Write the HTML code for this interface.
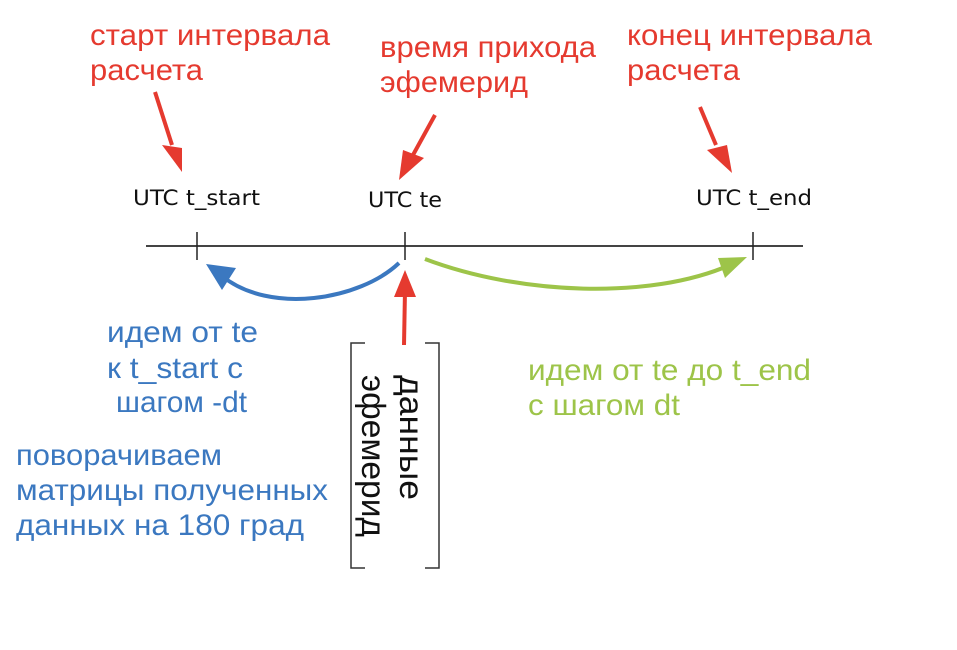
<!DOCTYPE html>
<html><head><meta charset="utf-8"><style>
body{margin:0;background:#fff;width:957px;height:645px;overflow:hidden}
svg text{font-family:"Liberation Sans",Arial,sans-serif}
.r{fill:#e53a2f;font-size:30px}
.b{fill:#3b78c0;font-size:30px}
.g{fill:#9dc449;font-size:30px}
.u{font-family:"DejaVu Sans",sans-serif!important;font-size:21px;fill:#111}
</style></head><body>
<svg width="957" height="645" viewBox="0 0 957 645" xmlns="http://www.w3.org/2000/svg">
<text class="r" x="90" y="45" textLength="240" lengthAdjust="spacingAndGlyphs">старт интервала</text>
<text class="r" x="90" y="80" textLength="113" lengthAdjust="spacingAndGlyphs">расчета</text>
<text class="r" x="380" y="57" textLength="216" lengthAdjust="spacingAndGlyphs">время прихода</text>
<text class="r" x="380" y="92" textLength="148" lengthAdjust="spacingAndGlyphs">эфемерид</text>
<text class="r" x="627" y="45" textLength="245" lengthAdjust="spacingAndGlyphs">конец интервала</text>
<text class="r" x="627" y="80" textLength="113" lengthAdjust="spacingAndGlyphs">расчета</text>
<g stroke="#e53a2f" stroke-width="4" fill="none">
<line x1="155" y1="92" x2="172" y2="145"/>
<line x1="435" y1="115" x2="413" y2="155"/>
<line x1="700" y1="107" x2="716" y2="145"/>
<line x1="404" y1="345" x2="405" y2="290"/>
</g>
<path d="M162,145 L182,148 L182,172 Z" fill="#e53a2f"/>
<path d="M403,150 L424,158 L399,180 Z" fill="#e53a2f"/>
<path d="M707,150 L727,145 L732,173 Z" fill="#e53a2f"/>
<path d="M394,297 L405,270 L416,297 Z" fill="#e53a2f"/>
<text class="u" x="133" y="205" textLength="127" lengthAdjust="spacingAndGlyphs">UTC t_start</text>
<text class="u" x="368" y="207" textLength="74" lengthAdjust="spacingAndGlyphs">UTC te</text>
<text class="u" x="696" y="205" textLength="116" lengthAdjust="spacingAndGlyphs">UTC t_end</text>
<line x1="146" y1="246" x2="803" y2="246" stroke="#444" stroke-width="2"/>
<g stroke="#222" stroke-width="1.5">
<line x1="197" y1="232" x2="197" y2="260"/>
<line x1="405" y1="232" x2="405" y2="260"/>
<line x1="753" y1="232" x2="753" y2="260"/>
</g>
<path d="M399,263 C360,300 270,315 222,276" stroke="#3b78c0" stroke-width="4" fill="none"/>
<path d="M206,264 L236,268 L222,290 Z" fill="#3b78c0"/>
<path d="M425,259 C520,295 650,300 730,265" stroke="#9dc449" stroke-width="4" fill="none"/>
<path d="M747,257 L725,278 L718,258 Z" fill="#9dc449"/>
<text class="b" x="107" y="342" textLength="151" lengthAdjust="spacingAndGlyphs">идем от te</text>
<text class="b" x="107" y="378" textLength="136" lengthAdjust="spacingAndGlyphs">к t_start с</text>
<text class="b" x="116" y="412" textLength="131" lengthAdjust="spacingAndGlyphs">шагом -dt</text>
<text class="b" x="16" y="465" textLength="206" lengthAdjust="spacingAndGlyphs">поворачиваем</text>
<text class="b" x="16" y="500" textLength="312" lengthAdjust="spacingAndGlyphs">матрицы полученных</text>
<text class="b" x="16" y="535" textLength="288" lengthAdjust="spacingAndGlyphs">данных на 180 град</text>
<text class="g" x="528" y="380" textLength="283" lengthAdjust="spacingAndGlyphs">идем от te до t_end</text>
<text class="g" x="528" y="415" textLength="152" lengthAdjust="spacingAndGlyphs">с шагом dt</text>
<g stroke="#333" stroke-width="1.5" fill="none">
<path d="M365,343 L351,343 L351,568 L365,568"/>
<path d="M425,343 L439,343 L439,568 L425,568"/>
</g>
<text transform="translate(400,375) rotate(90)" style="font-size:33px;fill:#111" textLength="125" lengthAdjust="spacingAndGlyphs">данные</text>
<text transform="translate(362,375) rotate(90)" style="font-size:33px;fill:#111" textLength="162" lengthAdjust="spacingAndGlyphs">эфемерид</text>
</svg>
</body></html>
